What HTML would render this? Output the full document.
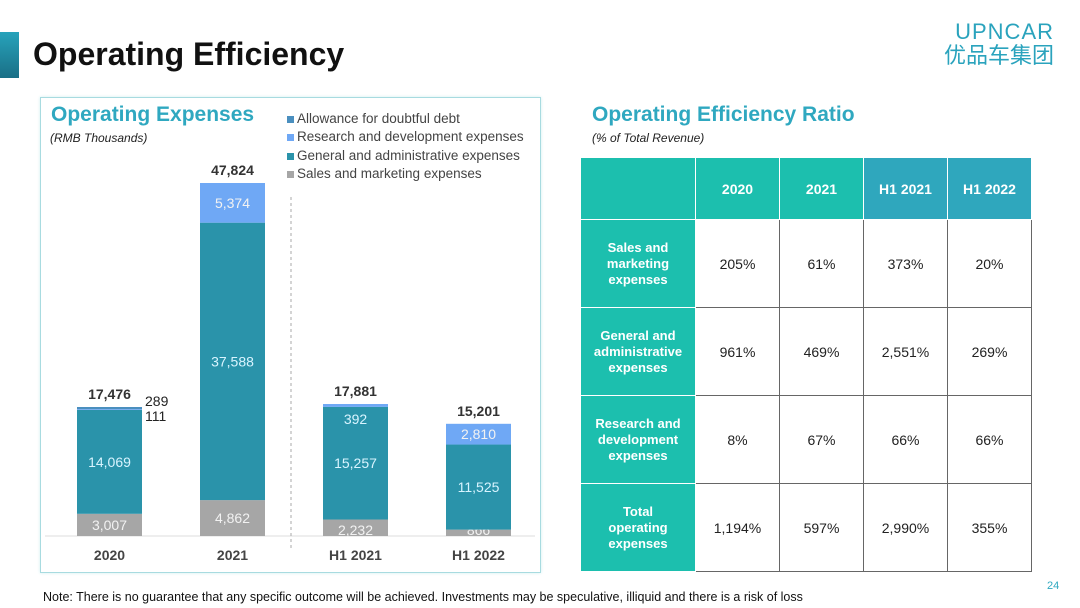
<!DOCTYPE html>
<html><head><meta charset="utf-8"><style>
body{margin:0;width:1080px;height:608px;background:#fff;font-family:"Liberation Sans",sans-serif;position:relative;overflow:hidden}
.a{position:absolute}
table{border-collapse:collapse;position:absolute;left:580px;top:157px;width:452px;height:415px;table-layout:fixed}
td{border:1.5px solid #666;text-align:center;font-size:14px;color:#222}
td.h{background:#1cbfae;color:#fff;font-weight:bold;border-color:#fff}
td.h2{background:#2fa7bd;color:#fff;font-weight:bold;border-color:#fff}
td.l{background:#1cbfae;color:#fff;font-weight:bold;font-size:13px;line-height:16px;border-color:#fff}
</style></head><body>
<div class="a" style="left:0;top:32px;width:19px;height:46px;background:linear-gradient(#27a3bb,#1a6f86)"></div>
<div class="a" style="left:33px;top:36px;font-size:32px;font-weight:bold;color:#111">Operating Efficiency</div>
<div class="a" style="left:944px;top:20px;color:#2aa3bd;font-size:22px;line-height:24px;text-align:right;font-family:'Liberation Sans','Noto Sans CJK SC',sans-serif"><div style="letter-spacing:1px">UPNCAR</div><div>优品车集团</div></div>
<div class="a" style="left:40px;top:97px;width:499px;height:474px;border:1px solid #a8dbe0;box-shadow:0 0 3px #cfeff0"></div>
<div class="a" style="left:51px;top:103px;font-size:21px;font-weight:bold;color:#2fa8c0">Operating Expenses</div>
<div class="a" style="left:50px;top:131px;font-size:12px;font-style:italic;color:#222">(RMB Thousands)</div>
<div class="a" style="left:287px;top:110px;font-size:13.5px;line-height:18.3px;color:#444">
<div><span style="display:inline-block;width:7px;height:7px;background:#4a8fbf;margin-right:3px"></span>Allowance for doubtful debt</div>
<div><span style="display:inline-block;width:7px;height:7px;background:#6fa8f5;margin-right:3px"></span>Research and development expenses</div>
<div><span style="display:inline-block;width:7px;height:7px;background:#2a93aa;margin-right:3px"></span>General and administrative expenses</div>
<div><span style="display:inline-block;width:7px;height:7px;background:#a6a6a6;margin-right:3px"></span>Sales and marketing expenses</div>
</div>
<svg class="a" style="left:0;top:0" width="1080" height="608" id="chart"></svg>
<div class="a" style="left:592px;top:103px;font-size:21px;font-weight:bold;color:#2fa8c0">Operating Efficiency Ratio</div>
<div class="a" style="left:592px;top:131px;font-size:12px;font-style:italic;color:#222">(% of Total Revenue)</div>
<table>
<tr style="height:62px"><td class="h" style="width:112px"></td><td class="h">2020</td><td class="h">2021</td><td class="h2">H1 2021</td><td class="h2">H1 2022</td></tr>
<tr><td class="l">Sales and<br>marketing<br>expenses</td><td>205%</td><td>61%</td><td>373%</td><td>20%</td></tr>
<tr><td class="l">General and<br>administrative<br>expenses</td><td>961%</td><td>469%</td><td>2,551%</td><td>269%</td></tr>
<tr><td class="l">Research and<br>development<br>expenses</td><td>8%</td><td>67%</td><td>66%</td><td>66%</td></tr>
<tr><td class="l">Total<br>operating<br>expenses</td><td>1,194%</td><td>597%</td><td>2,990%</td><td>355%</td></tr>
</table>
<div class="a" style="left:1047px;top:580px;font-size:11px;color:#2fa8c0">24</div>
<div class="a" style="left:43px;top:590px;font-size:12.5px;color:#111">Note: There is no guarantee that any specific outcome will be achieved. Investments may be speculative, illiquid and there is a risk of loss</div>
<script>
const categories=["2020","2021","H1 2021","H1 2022"];
const sales=[3007,4862,2232,866];
const ga=[14069,37588,15257,11525];
const rnd=[111,5374,392,2810];
const allowance=[289,0,0,0];
const totals=[17476,47824,17881,15201];
const svg=document.getElementById('chart');
const NS='http://www.w3.org/2000/svg';
const base=536, scale=353/47824;
const xs=i=>77+i*123, bw=65;
const y=v=>base-v*scale;
function mk(t,a){const e=document.createElementNS(NS,t);for(const k in a)e.setAttribute(k,a[k]);svg.appendChild(e);return e;}
const bl=mk('line',{x1:45,y1:base,x2:535,y2:base,stroke:'#ddd'});


const dv=mk('line',{x1:291,y1:197,x2:291,y2:548,stroke:'#aaa','stroke-dasharray':'3,3'});


const series=[[sales,'#a6a6a6','sales'],[ga,'#2a93aa','ga'],[rnd,'#6fa8f5','rnd'],[allowance,'#4a8fbf','allowance']];
function label(txt,x,yy,col){
  const t=mk('text',{x:x,y:yy,'text-anchor':'middle','font-size':14,fill:col});
  t.textContent=txt;
  
  
}
categories.forEach((c,i)=>{
  let cum=0;
  series.forEach(([arr,col,nm])=>{
    const v=arr[i]; if(v<=0)return;
    const r=mk('rect',{x:xs(i),y:y(cum+v),width:bw,height:v*scale,fill:col});
    
    
    const h=v*scale, cx=xs(i)+bw/2, txt=v.toLocaleString('en-US');
    if(h>14){
      let ly=y(cum+v/2)+5;
      if(nm==='sales'&&h<22)ly=base-1;
      label(txt,cx,ly,nm==='ga'?'#d8f4ff':'#f2f2f2');
    } else if(nm==='sales'){
      label(txt,cx,base-1,'#f2f2f2');
    } else if(nm==='rnd'&&i>0){
      label(txt,cx,y(cum)+17,'#d8f4ff');
    }
    cum+=v;
  });
  const tt=mk('text',{x:xs(i)+bw/2,y:y(totals[i])-8,'text-anchor':'middle','font-size':14,'font-weight':'bold',fill:'#333'});
  tt.textContent=totals[i].toLocaleString('en-US');
  
  
  const cl=mk('text',{x:xs(i)+bw/2,y:560,'text-anchor':'middle','font-size':14,'font-weight':'bold',fill:'#444'});
  cl.textContent=c;
  
  
});
const o1=mk('text',{x:145,y:406,'font-size':14,fill:'#222'});o1.textContent=allowance[0].toLocaleString('en-US');


const o2=mk('text',{x:145,y:421,'font-size':14,fill:'#222'});o2.textContent=rnd[0].toLocaleString('en-US');


</script>
</body></html>
